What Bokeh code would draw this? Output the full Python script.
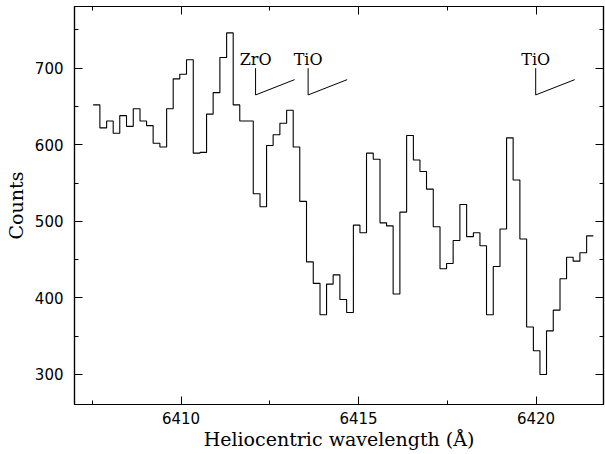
from bokeh.plotting import figure
from bokeh.models import Range1d, LinearAxis, SingleIntervalTicker, ColumnDataSource, CustomJSTickFormatter
from bokeh.core.properties import value
from bokeh.embed import file_html
from bokeh.resources import INLINE

# ---- data ----
wavelength = [
    6407.62, 6407.81, 6408.00, 6408.18, 6408.37, 6408.56, 6408.75, 6408.94, 6409.12, 6409.31,
    6409.50, 6409.69, 6409.87, 6410.06, 6410.25, 6410.44, 6410.63, 6410.81, 6411.00, 6411.19,
    6411.38, 6411.56, 6411.75, 6411.94, 6412.13, 6412.32, 6412.50, 6412.69, 6412.88, 6413.07,
    6413.25, 6413.44, 6413.63, 6413.82, 6414.01, 6414.19, 6414.38, 6414.57, 6414.76, 6414.95,
    6415.13, 6415.32, 6415.51, 6415.70, 6415.88, 6416.07, 6416.26, 6416.45, 6416.64, 6416.82,
    6417.01, 6417.20, 6417.39, 6417.57, 6417.76, 6417.95, 6418.14, 6418.33, 6418.51, 6418.70,
    6418.89, 6419.08, 6419.26, 6419.45, 6419.64, 6419.83, 6420.02, 6420.20, 6420.39, 6420.58,
    6420.77, 6420.95, 6421.14, 6421.33, 6421.52,
]
counts = [
    652, 622, 631, 615, 638, 624, 647, 631, 625, 602,
    597, 647, 686, 692, 711, 589, 590, 640, 668, 714,
    746, 652, 631, 631, 536, 519, 599, 613, 628, 645,
    597, 526, 447, 419, 378, 418, 430, 398, 381, 495,
    485, 589, 581, 498, 494, 405, 512, 612, 580, 565,
    542, 493, 438, 445, 475, 522, 480, 485, 468, 378,
    441, 490, 609, 554, 477, 362, 331, 300, 357, 384,
    425, 453, 448, 459, 481,
]

band_heads = [6412.10, 6413.58, 6419.99]
band_names = ["ZrO", "TiO", "TiO"]
band_label_level = 711
band_top = 700
band_bottom = 665
band_tail_end = 685
band_tail_length = 1.1

x_major_interval = 5
y_major_interval = 100
x_label = "Heliocentric wavelength (Å)"
y_label = "Counts"

# ---- bin edges for the histogram-style step ----
edges = [wavelength[0] - (wavelength[1] - wavelength[0]) / 2]
for i in range(1, len(wavelength)):
    edges.append((wavelength[i - 1] + wavelength[i]) / 2)
edges.append(wavelength[-1] + (wavelength[-1] - wavelength[-2]) / 2)
step_y = counts + [counts[-1]]

p = figure(width=605, height=454, output_backend="svg", toolbar_location=None,
           x_range=Range1d(6407.0, 6421.9), y_range=Range1d(260.8, 780.5),
           min_border_left=74, min_border_right=2, min_border_top=6, min_border_bottom=50,
           x_axis_location=None, y_axis_location=None)
p.background_fill_color = "white"
p.border_fill_color = "white"
p.outline_line_color = "black"
p.outline_line_width = 1.2
p.xgrid.visible = False
p.ygrid.visible = False

def style_axis(ax, ticker, show_labels):
    ax.ticker = ticker
    ax.major_tick_in = 8
    ax.major_tick_out = 0
    ax.minor_tick_in = 4
    ax.minor_tick_out = 0
    ax.axis_line_color = "black"
    ax.axis_line_width = 1.2
    ax.major_tick_line_color = "black"
    ax.minor_tick_line_color = "black"
    ax.major_tick_line_width = 1
    ax.minor_tick_line_width = 1
    ax.major_label_text_font = "DejaVu Sans"
    ax.major_label_text_font_size = "15px"
    ax.major_label_text_color = "black"
    if not show_labels:
        ax.formatter = CustomJSTickFormatter(code="return ''")
        ax.major_label_standoff = 0

xb = LinearAxis(axis_label=x_label)
style_axis(xb, SingleIntervalTicker(interval=x_major_interval, num_minor_ticks=2), True)
xb.major_label_standoff = 7
xb.axis_label_standoff = 1
xb.axis_label_text_font = "DejaVu Serif"
xb.axis_label_text_font_size = "19px"
xb.axis_label_text_font_style = "normal"
xb.axis_label_text_color = "black"
p.add_layout(xb, "below")

yl = LinearAxis(axis_label=y_label)
style_axis(yl, SingleIntervalTicker(interval=y_major_interval, num_minor_ticks=2), True)
yl.major_label_standoff = 11
yl.axis_label_standoff = 5
yl.axis_label_text_font = "DejaVu Serif"
yl.axis_label_text_font_size = "19px"
yl.axis_label_text_font_style = "normal"
yl.axis_label_text_color = "black"
p.add_layout(yl, "left")

xa = LinearAxis()
style_axis(xa, SingleIntervalTicker(interval=x_major_interval, num_minor_ticks=2), False)
p.add_layout(xa, "above")

yr = LinearAxis()
style_axis(yr, SingleIntervalTicker(interval=y_major_interval, num_minor_ticks=2), False)
p.add_layout(yr, "right")

# spectrum
p.step(edges, step_y, mode="after", line_color="black", line_width=1.1)

# band-head markers
mx = []
my = []
for h in band_heads:
    mx.append([h, h, h + band_tail_length])
    my.append([band_top, band_bottom, band_tail_end])
p.multi_line(mx, my, line_color="black", line_width=1)

src = ColumnDataSource(dict(x=band_heads, y=[band_label_level] * len(band_heads), t=band_names))
p.text(x="x", y="y", text="t", source=src, text_align="center", text_baseline="alphabetic",
       text_font=value("DejaVu Serif"), text_font_size="16px", text_color="black")

open("out.html", "w").write(file_html(p, INLINE))
